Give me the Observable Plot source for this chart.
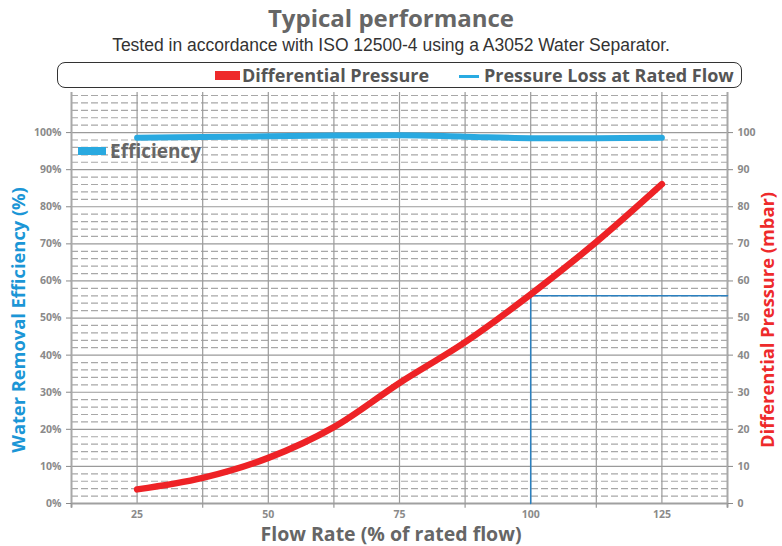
<!DOCTYPE html>
<html>
<head>
<meta charset="utf-8">
<script src="https://cdn.jsdelivr.net/npm/d3@7"></script>
<script src="https://cdn.jsdelivr.net/npm/@observablehq/plot@0.6"></script>
<style>
  html, body { margin: 0; padding: 0; background: #fff; }
  #wrap { position: relative; width: 782px; height: 546px; overflow: hidden; font-family: "Open Sans", sans-serif; }
  #wrap svg { position: absolute; left: 0; top: 0; }
  .abs { position: absolute; white-space: nowrap; }
  #title { left: 0; width: 782px; top: 3px; text-align: center; font-size: 24px; font-weight: bold; color: #666; line-height: 30px; }
  #subtitle { left: 0; width: 782px; top: 34px; text-align: center; font-family: "Liberation Sans", sans-serif; font-size: 17.5px; color: #333; line-height: 22px; }
  #legend { left: 57px; top: 62px; width: 683px; height: 24px; border: 1.3px solid #333; border-radius: 8px; }
  .leg { font-size: 18px; font-weight: bold; color: #555; line-height: 20px; }
  .ytitle { font-size: 18.3px; font-weight: bold; transform: translate(-50%, -50%) rotate(-90deg); line-height: 20px; }
  #xtitle { left: 391px; top: 534px; transform: translate(-50%, -50%); font-size: 19.5px; font-weight: bold; color: #666; line-height: 16px; }
</style>
</head>
<body>
<div id="wrap">
  <div id="title" class="abs">Typical performance</div>
  <div id="subtitle" class="abs">Tested in accordance with ISO 12500-4 using a A3052 Water Separator.</div>
  <div id="legend" class="abs"></div>
  <div class="abs" style="left:215px;top:71px;width:25px;height:9px;background:#ee2a2b;"></div>
  <div class="abs leg" style="left:242px;top:65px;">Differential Pressure</div>
  <div class="abs" style="left:459px;top:75px;width:20px;height:2.5px;background:#29abe2;"></div>
  <div class="abs leg" style="left:484px;top:65px;">Pressure Loss at Rated Flow</div>
  <div class="abs" style="left:78px;top:147px;width:28px;height:8px;background:#29a9e0;"></div>
  <div class="abs leg" style="left:110px;top:141px;color:#666;font-size:19px;">Efficiency</div>
  <div class="abs ytitle" style="left:18px;top:320px;color:#1b96d6;">Water Removal Efficiency (%)</div>
  <div class="abs ytitle" style="left:767px;top:320px;color:#ee2a2b;">Differential Pressure (mbar)</div>
  <div id="xtitle" class="abs">Flow Rate (% of rated flow)</div>
</div>
<script>
// ---- data ----
const flow = [25, 37.5, 50, 62.5, 75, 87.5, 100, 112.5, 125];
const efficiency = [98.6, 98.8, 99.0, 99.2, 99.3, 98.9, 98.5, 98.5, 98.6];
const pressure = [3.8, 6.9, 12.3, 20.6, 32.5, 43.5, 56.4, 70.5, 86.1];
const ratedFlow = 100;
const ratedPressure = 56;
const xDomain = [12.5, 137.5];
const yDomain = [0, 110];
const xLabelTicks = [25, 50, 75, 100, 125];
const xGridTicks = [12.5, 25, 37.5, 50, 62.5, 75, 87.5, 100, 112.5, 125, 137.5];
const xBetweenTicks = [12.5, 37.5, 62.5, 87.5, 112.5, 137.5];
const yLabelTicks = [0, 10, 20, 30, 40, 50, 60, 70, 80, 90, 100];
const yMajorGrid = [10, 20, 30, 40, 50, 60, 70, 80, 90, 100];
const yMinorGrid = [2,4,6,8,12,14,16,18,22,24,26,28,32,34,36,38,42,44,46,48,52,54,56,58,62,64,66,68,72,74,76,78,82,84,86,88,92,94,96,98,102,104,106,108,110];

const effData = flow.map((f, i) => ({flow: f, value: efficiency[i]}));
const dpData = flow.map((f, i) => ({flow: f, value: pressure[i]}));
const ratedData = [
  {flow: ratedFlow, value: yDomain[0]},
  {flow: ratedFlow, value: ratedPressure},
  {flow: xDomain[1], value: ratedPressure}
];

const grid = "#9a9a9a";
const tickFont = {fontSize: 10.5, fontWeight: "bold", color: "#8a8a8a"};

const chart = Plot.plot({
  width: 782,
  height: 546,
  marginTop: 95,
  marginBottom: 43,
  marginLeft: 71,
  marginRight: 55,
  style: {fontFamily: "Open Sans, sans-serif", background: "transparent", overflow: "visible"},
  x: {domain: xDomain},
  y: {domain: yDomain},
  marks: [
    Plot.ruleY(yMinorGrid, {stroke: "#a8a8a8", strokeWidth: 1.2, strokeDasharray: "7,3"}),
    Plot.ruleY(yMajorGrid, {stroke: grid, strokeWidth: 1.2}),
    Plot.ruleX(xGridTicks.slice(1, -1), {y1: yDomain[0], y2: 110.8, stroke: grid, strokeWidth: 1.2}),
    Plot.ruleX([xDomain[0], xDomain[1]], {y1: -1.2, y2: 110.8, stroke: "#a8a8a8", strokeWidth: 2}),
    Plot.ruleY([0], {stroke: "#a0a0a0", strokeWidth: 2}),
    Plot.ruleX(xBetweenTicks, {y1: 0, y2: -1.3, stroke: "#999", strokeWidth: 1.2}),
    Plot.axisY({anchor: "left", ticks: yLabelTicks, tickFormat: d => d + "%", tickSize: 5, tickPadding: 5, label: null, ...tickFont}),
    Plot.axisY({anchor: "right", ticks: yLabelTicks, tickFormat: d => String(d), tickSize: 5, tickPadding: 5, label: null, ...tickFont}),
    Plot.axisX({anchor: "bottom", ticks: xLabelTicks, tickSize: 0, tickPadding: 7, label: null, ...tickFont}),
    Plot.line(ratedData, {x: "flow", y: "value", stroke: "#2a80c0", strokeWidth: 1.5}),
    Plot.line(effData, {x: "flow", y: "value", stroke: "#29a9e0", strokeWidth: 6, curve: "catmull-rom", strokeLinecap: "round"}),
    Plot.line(dpData, {x: "flow", y: "value", stroke: "#ee2226", strokeWidth: 6.5, curve: "catmull-rom", strokeLinecap: "round"})
  ]
});
const wrap = document.getElementById("wrap");
wrap.insertBefore(chart, wrap.firstChild);
</script>
</body>
</html>
